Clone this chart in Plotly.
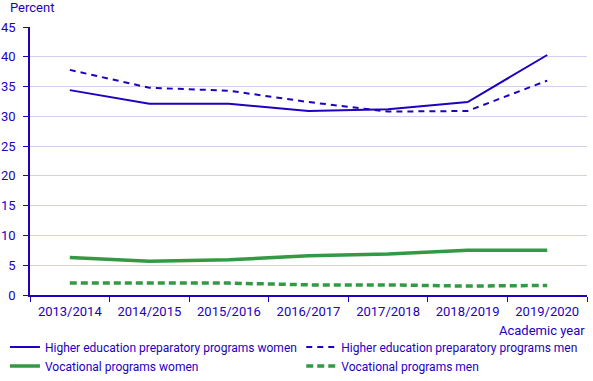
import plotly.graph_objects as go

years = ["2013/2014", "2014/2015", "2015/2016", "2016/2017", "2017/2018", "2018/2019", "2019/2020"]
he_women = [34.4, 32.1, 32.1, 30.9, 31.2, 32.4, 40.3]
he_men = [37.8, 34.8, 34.3, 32.4, 30.8, 30.9, 36.0]
voc_women = [6.3, 5.65, 5.9, 6.6, 6.9, 7.5, 7.5]
voc_men = [2.0, 2.0, 2.0, 1.7, 1.7, 1.5, 1.6]
y_ticks = [0, 5, 10, 15, 20, 25, 30, 35, 40, 45]

BLUE = "#1e00be"
GREEN = "#339944"
FONT = "Roboto, Liberation Sans, Arial, sans-serif"

fig = go.Figure()
fig.add_trace(go.Scatter(x=years, y=he_women, mode="lines", name="Higher education preparatory programs women",
                         line=dict(color=BLUE, width=2), legend="legend"))
fig.add_trace(go.Scatter(x=years, y=he_men, mode="lines", name="Higher education preparatory programs men",
                         line=dict(color=BLUE, width=2, dash="6px,5px"), legend="legend2"))
fig.add_trace(go.Scatter(x=years, y=voc_women, mode="lines", name="Vocational programs women",
                         line=dict(color=GREEN, width=3.5), legend="legend"))
fig.add_trace(go.Scatter(x=years, y=voc_men, mode="lines", name="Vocational programs men",
                         line=dict(color=GREEN, width=3.5, dash="7px,4px"), legend="legend2"))

leg_common = dict(orientation="v", y=-0.14, yanchor="top", tracegroupgap=0,
                  font=dict(size=12, color=BLUE), bgcolor="rgba(0,0,0,0)", itemwidth=30)

fig.update_layout(
    width=593, height=381,
    margin=dict(l=30, r=6, t=27, b=86, autoexpand=False),
    paper_bgcolor="white", plot_bgcolor="white",
    font=dict(family=FONT, size=13, color=BLUE),
    showlegend=True,
    legend=dict(x=-0.045, xanchor="left", **leg_common),
    legend2=dict(x=0.487, xanchor="left", **leg_common),
    annotations=[
        dict(text="Percent", xref="paper", yref="paper", x=-0.04, y=1.0, yshift=20,
             xanchor="left", yanchor="middle", showarrow=False, font=dict(size=13, color=BLUE)),
        dict(text="Academic year", xref="paper", yref="paper", x=1.0, y=0, yshift=-26,
             xanchor="right", yanchor="top", showarrow=False, font=dict(size=13, color=BLUE)),
    ],
)
fig.update_xaxes(
    type="category", tickson="boundaries", ticks="outside", ticklen=5, tickcolor=BLUE,
    showline=True, linecolor=BLUE, linewidth=1.5, showgrid=False, ticklabelstandoff=4,
    tickfont=dict(size=13, color=BLUE), range=[-0.5, 6.5],
)
fig.update_yaxes(
    range=[0, 45], tickvals=y_ticks, ticks="outside", ticklen=5, tickcolor=BLUE,
    showline=True, linecolor=BLUE, linewidth=1.5, showgrid=True, gridcolor="#d2cff0", gridwidth=1,
    zeroline=False, tickfont=dict(size=13, color=BLUE), ticklabelstandoff=5,
)

fig.write_html("out.html", config={"displayModeBar": False},
               post_script="document.body.style.margin='0';")
